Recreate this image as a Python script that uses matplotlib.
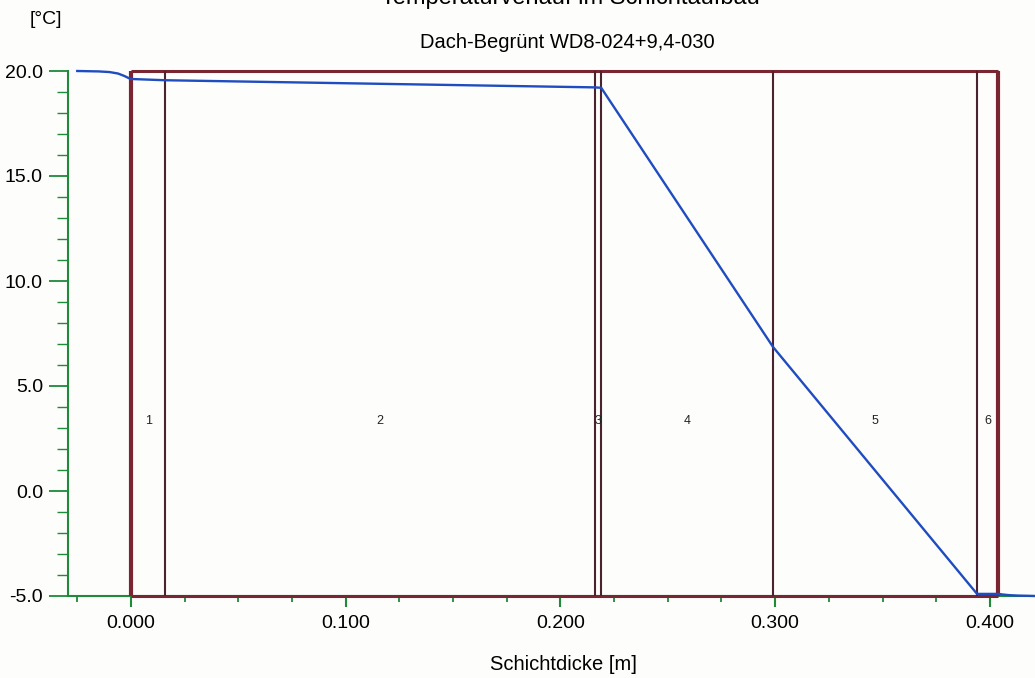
import matplotlib.pyplot as plt
from matplotlib.ticker import MultipleLocator, FormatStrFormatter

plt.rcParams['font.family'] = ['Liberation Sans', 'DejaVu Sans']

# layer boundaries [m] and layer numbers
layer_bounds = [0.0, 0.016, 0.216, 0.219, 0.299, 0.394, 0.404]
layer_names = ['1', '2', '3', '4', '5', '6']

# temperature curve through the build-up
temp_x = [-0.025, -0.015, -0.010, -0.006, -0.003, -0.001, 0.0, 0.016, 0.216, 0.219,
          0.299, 0.394, 0.404, 0.406, 0.409, 0.413, 0.417, 0.421]
temp_y = [20.0, 19.98, 19.95, 19.88, 19.76, 19.66, 19.62, 19.56, 19.22, 19.20,
          6.86, -4.90, -4.90, -4.93, -4.96, -4.98, -4.99, -5.0]

t_min, t_max = -5.0, 20.0

fig = plt.figure(figsize=(10.35, 6.78), dpi=100)
fig.patch.set_facecolor('#fdfdfb')
ax = fig.add_axes([68 / 1035, 1 - 596 / 678, 967 / 1035, 525 / 678])
ax.set_facecolor('#fdfdfb')

green = '#1e8a3a'
frame = '#7a2632'
inner = '#4a2230'

ax.set_xlim(-0.0293, 0.421)
ax.set_ylim(t_min, t_max)

for s in ['top', 'right']:
    ax.spines[s].set_visible(False)
for s in ['left', 'bottom']:
    ax.spines[s].set_color(green)
    ax.spines[s].set_linewidth(1.5)

ax.xaxis.set_major_locator(MultipleLocator(0.1))
ax.xaxis.set_minor_locator(MultipleLocator(0.025))
ax.yaxis.set_major_locator(MultipleLocator(5.0))
ax.yaxis.set_minor_locator(MultipleLocator(1.0))
ax.xaxis.set_major_formatter(FormatStrFormatter('%.3f'))
ax.yaxis.set_major_formatter(FormatStrFormatter('%.1f'))

ax.tick_params(axis='y', which='major', direction='out', length=14, width=1.3,
               color=green, labelsize=14, pad=4)
ax.tick_params(axis='y', which='minor', direction='out', length=8, width=1.0, color=green)
ax.tick_params(axis='x', which='major', direction='out', length=8, width=1.5,
               color=green, labelsize=14, pad=6)
ax.tick_params(axis='x', which='minor', direction='out', length=4, width=1.3, color=green)

# layer frame
x0, x1 = layer_bounds[0], layer_bounds[-1]
ax.hlines([t_min, t_max], x0, x1, color=frame, linewidth=2.2, zorder=3, clip_on=False)
ax.vlines([x0, x1], t_min, t_max, color=frame, linewidth=3.0, zorder=3, clip_on=False)
ax.vlines(layer_bounds[1:-1], t_min, t_max, color=inner, linewidth=1.5, zorder=3)

for i, name in enumerate(layer_names):
    xc = (layer_bounds[i] + layer_bounds[i + 1]) / 2
    ax.text(xc, 3.33, name, ha='center', va='center', fontsize=9, color='#222222', zorder=4)

ax.plot(temp_x, temp_y, color='#1f4cc0', linewidth=1.7, zorder=5, clip_on=False)

fig.text(30 / 1035, 1 - 20 / 678, '[°C]', fontsize=14, ha='left', va='center')
fig.text(567 / 1035, 1 - 43 / 678, 'Dach-Begrünt WD8-024+9,4-030', fontsize=14.5,
         ha='center', va='center')
fig.text(570 / 1035, 1 - 4 / 678, 'Temperaturverlauf im Schichtaufbau', fontsize=17,
         ha='center', va='baseline')
fig.text(563 / 1035, 1 - 665 / 678, 'Schichtdicke [m]', fontsize=14.5, ha='center', va='center')

fig.savefig('out.png', dpi=100, facecolor=fig.get_facecolor())
